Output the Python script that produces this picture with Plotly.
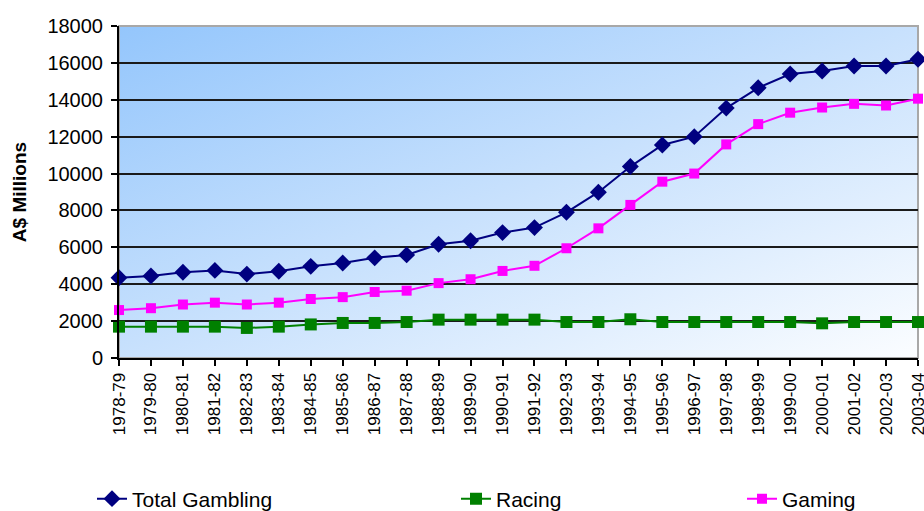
import base64
import plotly.graph_objects as go

years = ["1978-79", "1979-80", "1980-81", "1981-82", "1982-83", "1983-84", "1984-85",
         "1985-86", "1986-87", "1987-88", "1988-89", "1989-90", "1990-91", "1991-92",
         "1992-93", "1993-94", "1994-95", "1995-96", "1996-97", "1997-98", "1998-99",
         "1999-00", "2000-01", "2001-02", "2002-03", "2003-04"]

total_gambling = [4350, 4450, 4650, 4750, 4550, 4700, 4970, 5150, 5430, 5590, 6170, 6360,
                  6800, 7070, 7900, 8990, 10380, 11550, 12000, 13550, 14650, 15400, 15560,
                  15830, 15830, 16200]
racing = [1700, 1700, 1700, 1700, 1630, 1700, 1820, 1900, 1900, 1950, 2080, 2080, 2080,
          2080, 1950, 1950, 2100, 1950, 1950, 1950, 1950, 1950, 1880, 1950, 1950, 1950]
gaming = [2600, 2700, 2900, 3000, 2900, 3000, 3200, 3300, 3580, 3650, 4060, 4270, 4720,
          5000, 5950, 7030, 8300, 9560, 10000, 11580, 12680, 13300, 13580, 13780, 13690,
          14060]

y_ticks = [0, 2000, 4000, 6000, 8000, 10000, 12000, 14000, 16000, 18000]

FONT = "Liberation Sans, Arial, sans-serif"

svg = ('<svg xmlns="http://www.w3.org/2000/svg" width="800" height="332" '
       'preserveAspectRatio="none" viewBox="0 0 800 332">'
       '<defs><linearGradient id="g" x1="0" y1="0" x2="1" y2="1">'
       '<stop offset="0" stop-color="#94C6FC"/>'
       '<stop offset="0.5" stop-color="#C8E1FD"/>'
       '<stop offset="1" stop-color="#FBFDFF"/>'
       '</linearGradient></defs>'
       '<rect width="800" height="332" fill="url(#g)"/></svg>')
svg_uri = "data:image/svg+xml;base64," + base64.b64encode(svg.encode()).decode()

fig = go.Figure()
fig.add_trace(go.Scatter(x=years, y=total_gambling, name="Total Gambling", mode="lines+markers",
                         line=dict(color="#000080", width=2),
                         marker=dict(symbol="diamond", size=13, color="#000080"),
                         cliponaxis=False, legend="legend", showlegend=True))
fig.add_trace(go.Scatter(x=years, y=racing, name="Racing", mode="lines+markers",
                         line=dict(color="#008000", width=2),
                         marker=dict(symbol="square", size=12, color="#008000"),
                         cliponaxis=False, legend="legend2", showlegend=True))
fig.add_trace(go.Scatter(x=years, y=gaming, name="Gaming", mode="lines+markers",
                         line=dict(color="#FF00FF", width=2),
                         marker=dict(symbol="square", size=10, color="#FF00FF"),
                         cliponaxis=False, legend="legend3", showlegend=True))

leg_common = dict(orientation="h", xref="container", yref="container",
                  yanchor="middle", y=1 - 499 / 511, xanchor="left",
                  font=dict(family=FONT, size=21, color="#000000"),
                  bgcolor="rgba(0,0,0,0)", itemwidth=30)

fig.update_layout(
    width=924, height=511,
    showlegend=True,
    margin=dict(l=119, r=6, t=26, b=153, autoexpand=False),
    paper_bgcolor="white",
    plot_bgcolor="rgba(0,0,0,0)",
    font=dict(family=FONT, color="#000000"),
    images=[dict(source=svg_uri, xref="paper", yref="paper", x=0, y=1, sizex=1, sizey=1,
                 sizing="stretch", layer="below", xanchor="left", yanchor="top")],
    shapes=[dict(type="rect", xref="paper", yref="paper", x0=0, x1=1, y0=0, y1=1,
                 line=dict(color="#A8A8A8", width=2), layer="below")],
    xaxis=dict(type="category", range=[0, len(years) - 1], showgrid=False,
               showline=True, linecolor="#000000", linewidth=2,
               ticks="outside", ticklen=6, tickcolor="#000000", tickwidth=1.5,
               tickangle=-90, tickfont=dict(family=FONT, size=17, color="#000000"),
               zeroline=False, automargin=False),
    yaxis=dict(range=[0, 18000], tickvals=y_ticks, tickformat="d", showgrid=True,
               gridcolor="#1A1A1A", gridwidth=1.5, showline=True, linecolor="#000000",
               linewidth=2, ticks="outside", ticklen=6, tickcolor="#000000", tickwidth=1.5,
               tickfont=dict(family=FONT, size=20, color="#000000"),
               ticklabelstandoff=4,
               zeroline=False, automargin=False,
               title=dict(text="<b>A$ Millions</b>", font=dict(family=FONT, size=19),
                          standoff=16)),
    legend=dict(x=92 / 924, **leg_common),
    legend2=dict(x=456 / 924, **leg_common),
    legend3=dict(x=742 / 924, **leg_common),
)

fig.write_html("out.html")
